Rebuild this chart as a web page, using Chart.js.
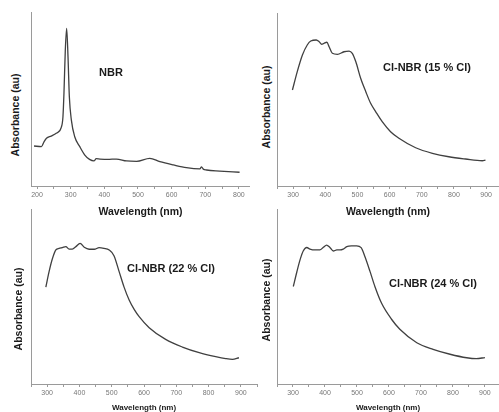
<!DOCTYPE html>
<html>
<head>
<meta charset="utf-8">
<script src="https://cdn.jsdelivr.net/npm/chart.js@4/dist/chart.umd.min.js"></script>
<style>
  html, body { margin: 0; padding: 0; background: #fff; }
  body { width: 499px; height: 412px; position: relative; overflow: hidden;
         font-family: 'Liberation Sans', Arial, sans-serif; }
  canvas { position: absolute; }
  .lbl { position: absolute; font-weight: bold; color: #1a1a1a; white-space: nowrap;
         line-height: 1; transform: translate(-50%, -50%); }
  .ytitle { font-size: 10.5px; transform: translate(-50%, -50%) rotate(-90deg); }
  .panel { font-size: 11px; }
</style>
</head>
<body>
<canvas id="nbr" width="221" height="205" style="left:29px;top:12px;width:221px;height:205px"></canvas>
<canvas id="cl15" width="224" height="204" style="left:275px;top:13px;width:224px;height:204px"></canvas>
<canvas id="cl22" width="230" height="203" style="left:29px;top:209px;width:230px;height:203px"></canvas>
<canvas id="cl24" width="224" height="203" style="left:275px;top:209px;width:224px;height:203px"></canvas>

<div class="lbl ytitle" style="left:15px;top:115px">Absorbance (au)</div>
<div class="lbl ytitle" style="left:266px;top:107px">Absorbance (au)</div>
<div class="lbl ytitle" style="left:18px;top:309px">Absorbance (au)</div>
<div class="lbl ytitle" style="left:266px;top:300px">Absorbance (au)</div>

<div class="lbl panel" style="left:111px;top:72px">NBR</div>
<div class="lbl panel" style="left:427px;top:67px">Cl-NBR (15 % Cl)</div>
<div class="lbl panel" style="left:171px;top:268px">Cl-NBR (22 % Cl)</div>
<div class="lbl panel" style="left:433px;top:283px">Cl-NBR (24 % Cl)</div>

<script>
// UV-Vis spectra: wavelength (nm) and absorbance (arbitrary units)
const nbrWavelength = [191, 213, 221, 228, 242, 257, 272, 277, 280, 284, 288, 292, 296, 302, 312, 327, 342, 356, 369, 376, 387, 410, 436, 466, 496, 535, 565, 605, 644, 684, 689, 694, 704, 743, 802];
const nbrAbsorbance = [0.230, 0.226, 0.255, 0.274, 0.287, 0.303, 0.337, 0.398, 0.534, 0.782, 0.906, 0.743, 0.513, 0.379, 0.283, 0.226, 0.178, 0.153, 0.144, 0.157, 0.155, 0.153, 0.155, 0.144, 0.142, 0.159, 0.140, 0.121, 0.105, 0.098, 0.110, 0.097, 0.092, 0.086, 0.079];

const cl15Wavelength = [298, 313, 329, 344, 355, 372, 381, 389, 396, 405, 412, 422, 438, 458, 474, 484, 495, 510, 526, 541, 557, 577, 603, 629, 681, 733, 784, 836, 888, 898];
const cl15Absorbance = [0.555, 0.661, 0.757, 0.815, 0.838, 0.844, 0.834, 0.819, 0.825, 0.831, 0.805, 0.767, 0.761, 0.776, 0.780, 0.767, 0.718, 0.623, 0.545, 0.478, 0.429, 0.372, 0.314, 0.276, 0.221, 0.189, 0.169, 0.156, 0.146, 0.150];

const cl22Wavelength = [296, 306, 316, 327, 337, 347, 358, 368, 378, 389, 402, 415, 430, 446, 461, 476, 492, 507, 523, 538, 554, 570, 585, 616, 667, 719, 771, 822, 853, 874, 894];
const cl22Absorbance = [0.554, 0.642, 0.714, 0.766, 0.775, 0.779, 0.785, 0.771, 0.771, 0.785, 0.804, 0.781, 0.770, 0.770, 0.779, 0.775, 0.766, 0.733, 0.642, 0.555, 0.480, 0.425, 0.385, 0.322, 0.255, 0.211, 0.179, 0.156, 0.145, 0.141, 0.150];

const cl24Wavelength = [301, 312, 322, 332, 343, 353, 369, 384, 395, 405, 416, 426, 437, 447, 457, 468, 483, 499, 513, 525, 541, 556, 577, 608, 634, 687, 738, 791, 843, 873, 900];
const cl24Absorbance = [0.557, 0.640, 0.709, 0.760, 0.780, 0.771, 0.766, 0.766, 0.781, 0.794, 0.779, 0.760, 0.766, 0.766, 0.771, 0.785, 0.789, 0.789, 0.779, 0.727, 0.642, 0.557, 0.461, 0.370, 0.313, 0.236, 0.198, 0.170, 0.150, 0.145, 0.151];

const tickStep = 50;       // minor tick every 50 nm
const labelStep = 100;     // labelled tick every 100 nm
const xTitle = 'Wavelength (nm)';

Chart.defaults.font.family = "'Liberation Sans', Arial, sans-serif";

const axisColor = '#9a9a9a';
const lineColor = '#404040';

function spectrum(id, wl, absorb, xMin, xMax, axisHeight, titleSize) {
  const points = wl.map((w, i) => ({ x: w, y: absorb[i] }));
  return new Chart(document.getElementById(id), {
    type: 'line',
    data: {
      datasets: [{
        data: points,
        borderColor: lineColor,
        borderWidth: 1.3,
        pointRadius: 0,
        fill: false,
        cubicInterpolationMode: 'monotone'
      }]
    },
    options: {
      responsive: false,
      animation: false,
      devicePixelRatio: 1,
      layout: { padding: 0 },
      plugins: { legend: { display: false }, tooltip: { enabled: false } },
      scales: {
        x: {
          type: 'linear',
          min: xMin,
          max: xMax,
          // ticks on every multiple of tickStep inside the range
          afterBuildTicks: s => {
            const ticks = [];
            for (let v = Math.ceil(xMin / tickStep) * tickStep; v <= xMax; v += tickStep) {
              ticks.push({ value: v });
            }
            s.ticks = ticks;
          },
          afterFit: s => { s.height = axisHeight; },
          border: { display: true, color: axisColor, width: 1 },
          grid: { display: true, drawOnChartArea: false, drawTicks: true, tickLength: 3, tickColor: axisColor },
          ticks: {
            autoSkip: false,
            maxRotation: 0,
            padding: 2,
            color: '#777',
            font: { size: 7 },
            callback: v => (v % labelStep === 0 ? String(v) : '')
          },
          title: {
            display: true,
            text: xTitle,
            color: '#1a1a1a',
            padding: 0,
            font: { size: titleSize, weight: 'bold', lineHeight: 1 }
          }
        },
        y: {
          min: 0,
          max: 1,
          afterFit: s => { s.width = 2; },
          border: { display: true, color: axisColor, width: 1 },
          grid: { display: false, drawTicks: false },
          ticks: { display: false }
        }
      }
    }
  });
}

spectrum('nbr',  nbrWavelength,  nbrAbsorbance,  182, 833, 31, 10.5);
spectrum('cl15', cl15Wavelength, cl15Absorbance, 250, 940, 31, 10.5);
spectrum('cl22', cl22Wavelength, cl22Absorbance, 250, 950, 28, 8);
spectrum('cl24', cl24Wavelength, cl24Absorbance, 250, 944, 28, 8);
</script>
</body>
</html>
